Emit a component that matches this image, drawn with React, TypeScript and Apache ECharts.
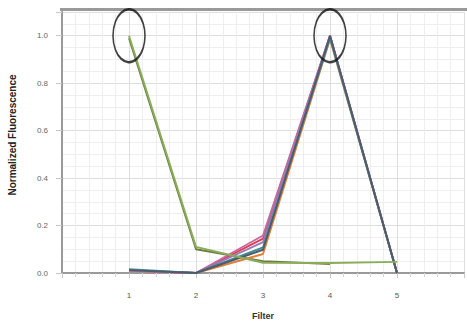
import React, { useEffect, useRef } from "react";
import * as echarts from "echarts";

const filters = [1, 2, 3, 4, 5];
const greenSeries = [1.0, 0.11, 0.043, 0.042, 0.047];
const oliveSeries = [0.99, 0.1, 0.05, 0.038, null];
const pinkSeries = [0.01, 0.0, 0.158, 1.0, 0.0];
const redSeries = [0.01, 0.0, 0.145, 1.0, 0.0];
const orangeSeries = [0.01, 0.0, 0.08, 0.985, 0.0];
const purpleSeries = [0.012, 0.0, 0.13, 1.0, 0.0];
const tealSeries = [0.016, 0.0, 0.108, 0.99, 0.0];
const slateSeries = [0.012, 0.0, 0.098, 1.0, 0.0];
const highlightPoints = [[1, 1.0], [4, 1.0]];
const yTicks = [0, 0.2, 0.4, 0.6, 0.8, 1.0];
const xTicks = [1, 2, 3, 4, 5];

const lineDefs = [
  { name: "olive", data: oliveSeries, color: "#6e7d3c" },
  { name: "orange", data: orangeSeries, color: "#e0803a" },
  { name: "red", data: redSeries, color: "#e23a50" },
  { name: "pink", data: pinkSeries, color: "#c8689a" },
  { name: "purple", data: purpleSeries, color: "#9a78b8" },
  { name: "teal", data: tealSeries, color: "#3f8f92" },
  { name: "slate", data: slateSeries, color: "#4e5b6b" },
  { name: "green", data: greenSeries, color: "#8aad5c" },
];

export default function App() {
  const ref = useRef<HTMLDivElement>(null);
  useEffect(() => {
    const chart = echarts.init(ref.current!, null, { renderer: "svg" });
    const font = "'Liberation Sans', Arial, sans-serif";
    chart.setOption({
      animation: false,
      backgroundColor: "#ffffff",
      grid: { left: 62, right: 0, top: 12, bottom: 54, containLabel: false },
      xAxis: {
        type: "value",
        min: 0,
        max: 6,
        interval: 1,
        axisLine: { show: true, lineStyle: { color: "#9a9a9a", width: 2 } },
        axisTick: { show: true, length: 5, lineStyle: { color: "#c8c8c8" } },
        minorTick: { show: true, splitNumber: 5, length: 4, lineStyle: { color: "#d6d6d6" } },
        splitLine: { show: true, lineStyle: { color: "#dedede", width: 1 } },
        minorSplitLine: { show: true, lineStyle: { color: "#eeeeee", width: 1 } },
        axisLabel: {
          margin: 18,
          fontFamily: font,
          fontSize: 8,
          color: "#555",
          formatter: (v: number) => (xTicks.includes(v) ? String(v) : ""),
        },
      },
      yAxis: {
        type: "value",
        min: 0,
        max: 1.1,
        interval: 0.2,
        axisLine: { show: true, lineStyle: { color: "#9a9a9a", width: 2 } },
        axisTick: { show: true, length: 6, lineStyle: { color: "#c8c8c8" } },
        minorTick: { show: false, splitNumber: 4 },
        splitLine: { show: true, lineStyle: { color: "#dedede", width: 1 } },
        minorSplitLine: { show: true, lineStyle: { color: "#eeeeee", width: 1 } },
        axisLabel: {
          margin: 14,
          fontFamily: font,
          fontSize: 8,
          color: "#666",
          formatter: (v: number) =>
            yTicks.some((t) => Math.abs(t - v) < 1e-6) ? v.toFixed(1) : "",
        },
      },
      series: [
        ...lineDefs.map((d) => ({
          type: "line",
          name: d.name,
          data: filters.map((f, i) => [f, d.data[i]]),
          showSymbol: false,
          symbol: "none",
          connectNulls: false,
          lineStyle: { color: d.color, width: 1.9 },
          z: 3,
        })),
        {
          type: "scatter",
          data: highlightPoints,
          symbol: "circle",
          symbolSize: [32, 53],
          clip: false,
          itemStyle: { color: "rgba(0,0,0,0)", borderColor: "#111", borderWidth: 2 },
          z: 12,
          zlevel: 1,
        },
      ],
      graphic: [
        {
          type: "rect",
          shape: { x: 60, y: 8, width: 407, height: 3 },
          style: { fill: "#9a9a9a" },
          z: 10,
        },
        {
          type: "text",
          x: 12,
          y: 135,
          rotation: Math.PI / 2,
          style: {
            text: "Normalized Fluorescence",
            fontFamily: font,
            fontSize: 10,
            fontWeight: "bold",
            fill: "#222",
            align: "center",
            verticalAlign: "middle",
          },
        },
        {
          type: "text",
          x: 263,
          y: 316,
          style: {
            text: "Filter",
            fontFamily: font,
            fontSize: 9,
            fontWeight: "bold",
            fill: "#333",
            align: "center",
            verticalAlign: "middle",
          },
        },
      ],
    });
    return () => chart.dispose();
  }, []);
  return <div ref={ref} style={{ width: 467, height: 327, position: "absolute", left: 0, top: 0 }} />;
}
